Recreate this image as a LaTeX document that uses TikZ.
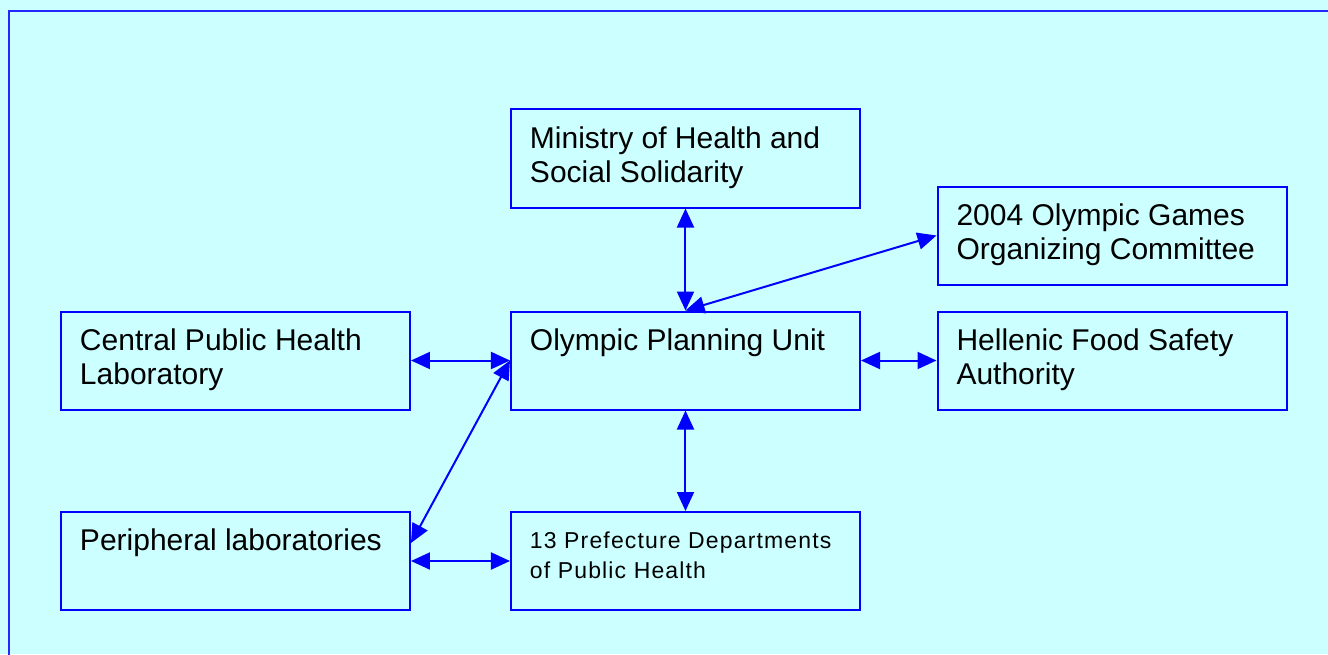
\documentclass[tikz,border=0pt]{standalone}
\usepackage{fontspec}
\setmainfont{Liberation Sans}
\usetikzlibrary{arrows.meta}
\definecolor{sky}{HTML}{CCFFFF}
\definecolor{edge}{HTML}{0000FF}
\newcommand{\boxtext}[1]{\parbox[c][68pt][t]{311pt}{\fontsize{30}{34}\selectfont\strut #1}}
\newcommand{\smalltext}[1]{\parbox[c][68pt][t]{311pt}{\fontsize{23}{30}\selectfont\addfontfeatures{LetterSpace=5}\strut #1}}
\tikzstyle{block} = [rectangle, draw=edge, line width=2pt, fill=sky,
    inner xsep=19pt, inner ysep=15pt, text=black]
\tikzstyle{line} = [draw=edge, line width=2pt,
    {Triangle[length=19pt,width=17pt]}-{Triangle[length=19pt,width=17pt]}]

\begin{document}
\begin{tikzpicture}[x=1pt, y=1pt, node distance=202pt]

    \fill [sky] (-685.5,360.5) rectangle (642.5,-293.5);
    \useasboundingbox (-685.5,360.5) rectangle (642.5,-293.5);
    \draw [edge!85, line width=2pt] (-676,-300) -- (-676,349.5) -- (650,349.5);

    \node [block] (unit) {\boxtext{Olympic Planning Unit}};
    \node [block, above of=unit] (ministry) {\boxtext{Ministry of Health and\\Social Solidarity}};
    \node [block, below of=unit, node distance=200.5pt] (prefecture) {\smalltext{13 Prefecture Departments\\of Public Health}};
    \node [block, left of=unit, node distance=450pt] (central) {\boxtext{Central Public Health\\Laboratory}};
    \node [block, below of=central, node distance=200.5pt] (periph) {\boxtext{Peripheral laboratories}};
    \node [block, right of=unit, node distance=426.5pt] (food) {\boxtext{Hellenic Food Safety\\Authority}};
    \node [block, above of=food, node distance=125pt] (athoc) {\boxtext{2004 Olympic Games\\Organizing Committee}};

    \path [line] (ministry) -- (unit);
    \path [line] (athoc.west) -- (unit.north);
    \path [line] (central) -- (unit);
    \path [line] (unit) -- (food);
    \path [line] (unit) -- (prefecture);
    \path [line] (periph) -- (prefecture);
    \path [line] ([yshift=18pt]periph.east) -- (unit.west);

\end{tikzpicture}
\end{document}
